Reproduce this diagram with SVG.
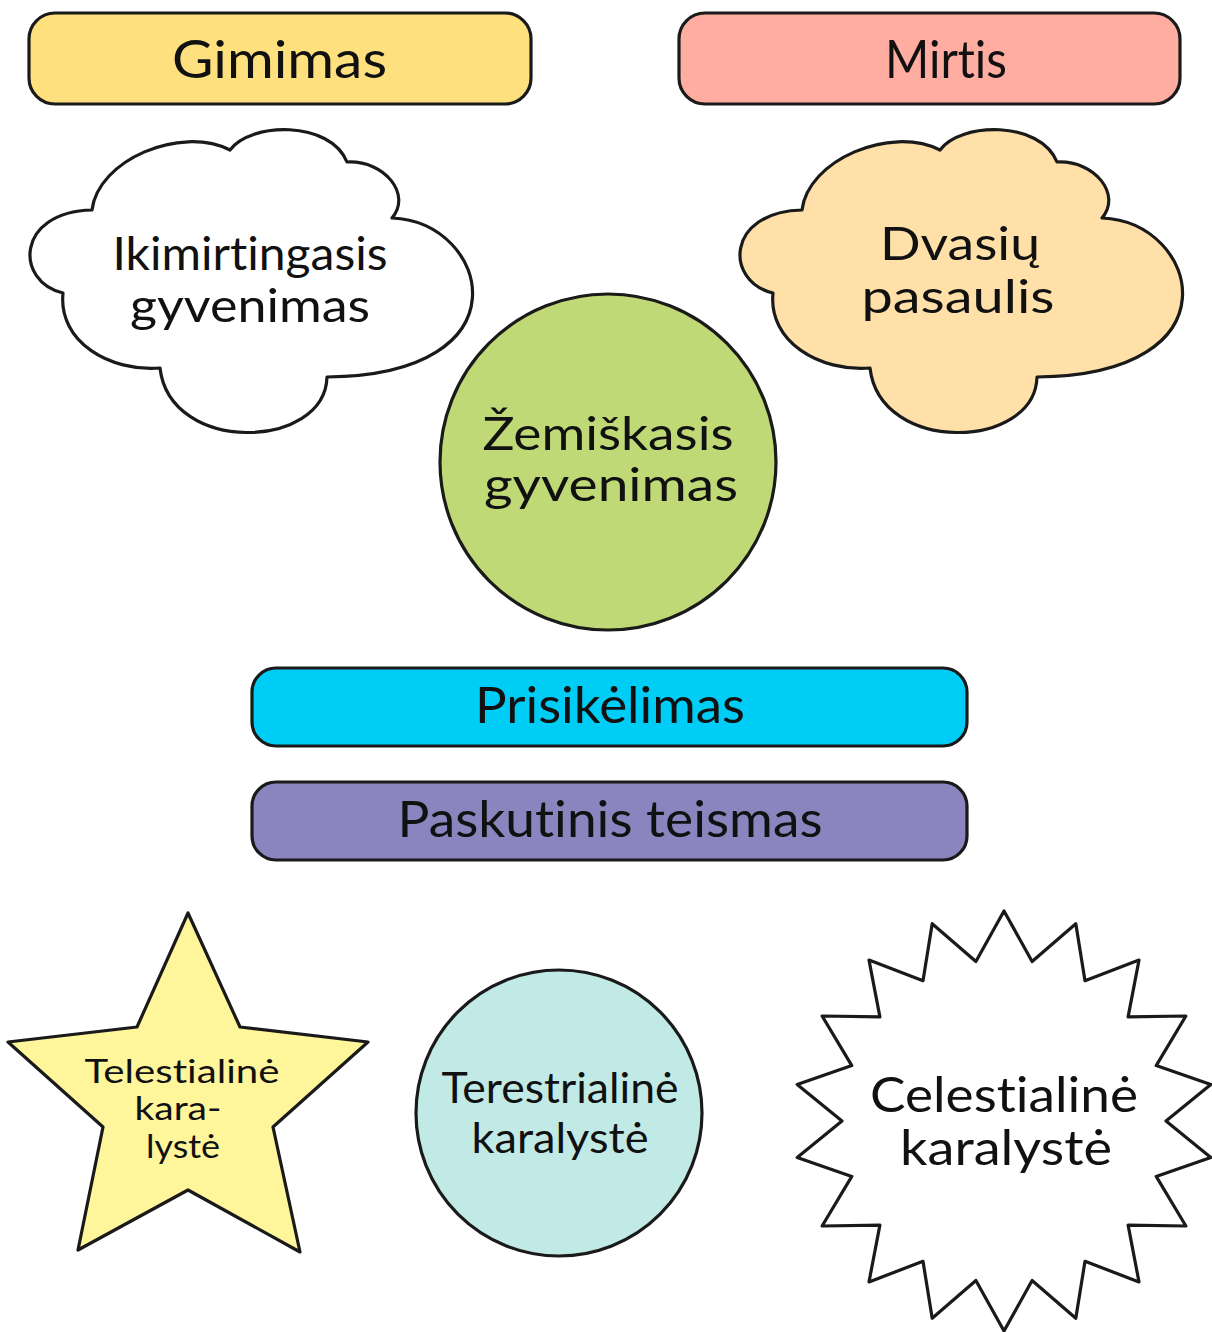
<svg xmlns="http://www.w3.org/2000/svg" xmlns:xlink="http://www.w3.org/1999/xlink" width="1212" height="1332" viewBox="0 0 1212 1332">
<style>
.sh{stroke:#1a1a1a;stroke-width:3.2;stroke-linejoin:round}
.t{font-family:Lato,"Liberation Sans",sans-serif;fill:#111;text-anchor:middle;font-variant-ligatures:none}
</style>
<defs>
<path id="cloud" d="M92,210 C98,160 180,125 230,150 C250,122 330,120 347,162 C385,160 412,195 392,218 C490,222 530,375 327,377 C325,450 170,455 160,368 C110,372 58,342 63,293 C15,282 15,212 92,210 Z"/>
</defs>
<rect width="1212" height="1332" fill="#fff"/>
<g id="gimimas">
<rect class="sh" x="29" y="13" width="502" height="91" rx="26" fill="#FEE17E"/>
<text class="t" x="279.5" y="78" font-size="52" textLength="215" lengthAdjust="spacingAndGlyphs">Gimimas</text>
</g>
<g id="mirtis">
<rect class="sh" x="679" y="13" width="501" height="91" rx="26" fill="#FFADA1"/>
<text class="t" x="946" y="78" font-size="52" textLength="122" lengthAdjust="spacingAndGlyphs">Mirtis</text>
</g>
<g id="ikimirtingasis">
<use xlink:href="#cloud" href="#cloud" class="sh" fill="#fff"/>
<text class="t" x="250" y="270" font-size="47" textLength="275" lengthAdjust="spacingAndGlyphs">Ikimirtingasis</text>
<text class="t" x="250" y="322" font-size="47" textLength="240" lengthAdjust="spacingAndGlyphs">gyvenimas</text>
</g>
<g id="dvasiu">
<use xlink:href="#cloud" href="#cloud" class="sh" fill="#FFE0A9" transform="translate(710,0)"/>
<text class="t" x="960" y="260" font-size="47" textLength="160" lengthAdjust="spacingAndGlyphs">Dvasių</text>
<text class="t" x="958" y="313" font-size="47" textLength="193" lengthAdjust="spacingAndGlyphs">pasaulis</text>
</g>
<g id="zemiskasis">
<circle class="sh" cx="608" cy="462" r="168" fill="#BED975"/>
<text class="t" x="608" y="450" font-size="46" textLength="251" lengthAdjust="spacingAndGlyphs">Žemiškasis</text>
<text class="t" x="611" y="501" font-size="46" textLength="254" lengthAdjust="spacingAndGlyphs">gyvenimas</text>
</g>
<g id="prisikelimas">
<rect class="sh" x="252" y="668" width="715" height="78" rx="24" fill="#00CDF5"/>
<text class="t" x="610" y="723" font-size="50" textLength="270" lengthAdjust="spacingAndGlyphs">Prisikėlimas</text>
</g>
<g id="teismas">
<rect class="sh" x="252" y="782" width="715" height="78" rx="24" fill="#8A84BF"/>
<text class="t" x="610" y="837" font-size="50" textLength="425" lengthAdjust="spacingAndGlyphs">Paskutinis teismas</text>
</g>
<g id="telestialine">
<polygon class="sh" fill="#FFF59B" points="188,913 240,1027 368,1042 273,1127 300,1252 188,1190 78,1250 103,1127 8,1042 137,1027"/>
<text class="t" x="182" y="1083" font-size="33" textLength="195" lengthAdjust="spacingAndGlyphs">Telestialinė</text>
<text class="t" x="178" y="1120" font-size="33" textLength="87" lengthAdjust="spacingAndGlyphs">kara-</text>
<text class="t" x="183" y="1158" font-size="33" textLength="74" lengthAdjust="spacingAndGlyphs">lystė</text>
</g>
<g id="terestrialine">
<circle class="sh" cx="559" cy="1113" r="143" fill="#C1EAE7"/>
<text class="t" x="560" y="1103" font-size="42" textLength="237" lengthAdjust="spacingAndGlyphs">Terestrialinė</text>
<text class="t" x="560" y="1153" font-size="42" textLength="177" lengthAdjust="spacingAndGlyphs">karalystė</text>
</g>
<g id="celestialine">
<polygon class="sh" fill="#fff" points="1004,911 1032.1,961.5 1075.8,923.7 1085,980.7 1139,960.1 1128.1,1016.9 1185.9,1016 1156.2,1065.6 1210.8,1084.5 1166,1121 1210.8,1157.5 1156.2,1176.4 1185.9,1226 1128.1,1225.1 1139,1281.9 1085,1261.3 1075.8,1318.3 1032.1,1280.5 1004,1331 975.9,1280.5 932.2,1318.3 923,1261.3 869,1281.9 879.9,1225.1 822.1,1226 851.8,1176.4 797.2,1157.5 842,1121 797.2,1084.5 851.8,1065.6 822.1,1016 879.9,1016.9 869,960.1 923,980.7 932.2,923.7 975.9,961.5"/>
<text class="t" x="1004" y="1112" font-size="48" textLength="268" lengthAdjust="spacingAndGlyphs">Celestialinė</text>
<text class="t" x="1006" y="1165" font-size="48" textLength="212" lengthAdjust="spacingAndGlyphs">karalystė</text>
</g>
<g id="connectors"></g>
</svg>
